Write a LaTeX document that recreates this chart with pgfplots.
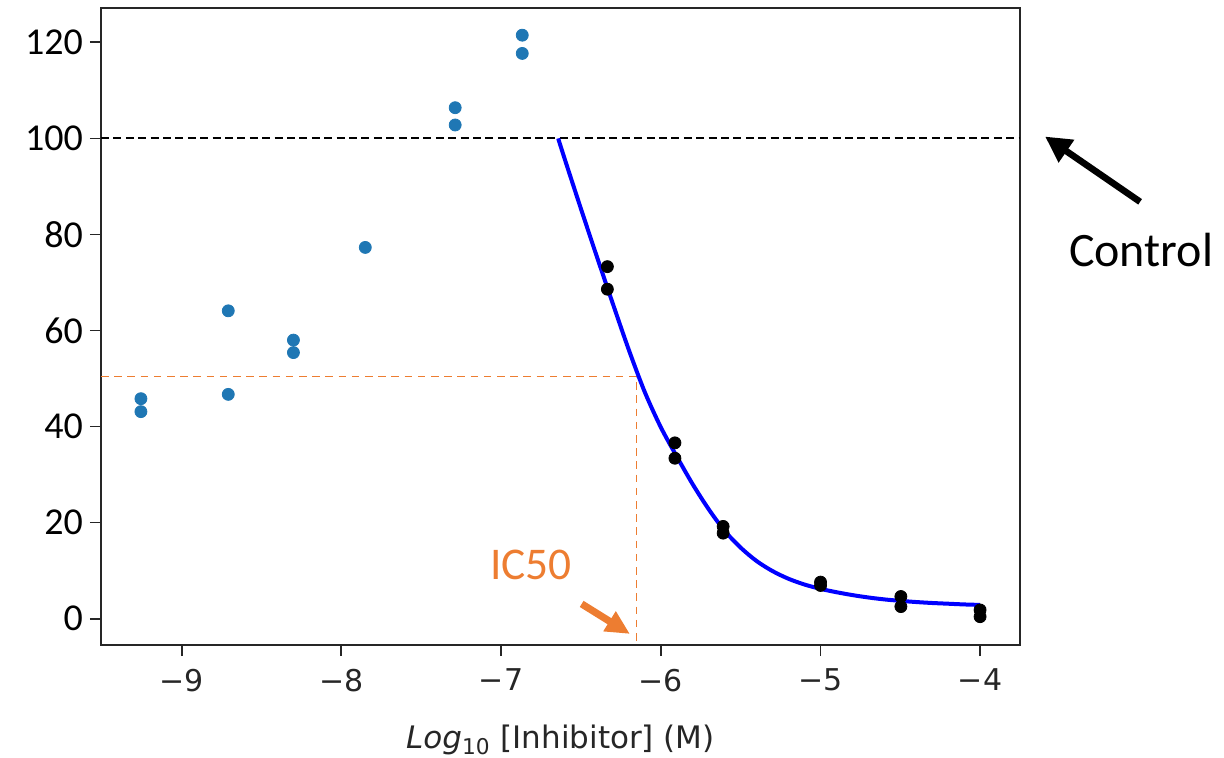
\documentclass[border=0pt]{standalone}
\usepackage{fontspec}
\setmainfont{Carlito}
\newfontfamily\dejavu{DejaVu Sans}
\usepackage{pgfplots}
\pgfplotsset{compat=1.18}
\usetikzlibrary{arrows.meta}
\definecolor{mplblue}{HTML}{1F77B4}
\definecolor{ic}{HTML}{ED7D31}
\definecolor{spine}{HTML}{262626}

\pgfplotstableread{
x y
-9.255 45.8
-9.255 43.1
-8.708 64.1
-8.708 46.7
-8.300 58.0
-8.300 55.4
-7.850 77.3
-7.287 106.4
-7.287 102.8
-6.867 121.5
-6.867 117.7
}\lowdata

\pgfplotstableread{
x y
-6.334 73.3
-6.334 68.6
-5.911 36.6
-5.911 33.4
-5.609 19.2
-5.609 17.8
-4.999 7.6
-4.999 6.9
-4.496 4.6
-4.496 2.5
-4.000 1.8
-4.000 0.4
}\highdata

\pgfplotstableread{
x y
-6.642 100.0
-6.6 95.6
-6.5 85.4
-6.4 75.4
-6.3 65.6
-6.2 56.0
-6.1 47.2
-6.0 39.9
-5.9 33.8
-5.8 28.0
-5.7 22.8
-5.6 18.3
-5.5 14.8
-5.4 12.0
-5.3 9.9
-5.2 8.3
-5.1 7.1
-5.0 6.2
-4.9 5.5
-4.8 4.9
-4.7 4.4
-4.6 4.0
-4.5 3.7
-4.4 3.45
-4.3 3.25
-4.2 3.1
-4.1 2.95
-4.0 2.85
}\fitdata

\begin{document}
\begin{tikzpicture}
\useasboundingbox (-50.5pt,-56pt) rectangle (561.5pt,322.5pt);
\begin{axis}[
  at={(0pt,0pt)}, anchor=south west,
  scale only axis, width=459.5pt, height=318.35pt,
  xmin=-9.505, xmax=-3.75, ymin=-5.5, ymax=127.1,
  clip=false,
  axis line style={spine, line width=1pt},
  tick pos=left,
  tick align=outside, major tick length=5.5pt,
  tick style={spine, line width=0.9pt},
  xtick={-9,-8,-7,-6,-5,-4},
  xticklabels={−9,−8,−7,−6,−5,−4},
  xticklabel style={font=\dejavu\fontsize{15}{17}\selectfont, text=black!85, yshift=-3pt},
  ytick={0,20,40,60,80,100,120},
  yticklabels={0,20,40,60,80,100,120},
  yticklabel style={font=\fontsize{19}{22}\selectfont},
  xlabel={{\itshape Log}\textsubscript{10} [Inhibitor] (M)},
  xlabel style={font=\dejavu\fontsize{15.5}{17}\selectfont, text=black!85,
    at={(axis description cs:0.5,0)}, anchor=base, yshift=-51.5pt},
]
\addplot[black, line width=1pt, dash pattern=on 4pt off 2.2pt] coordinates {(-9.505,100) (-3.75,100)};
\addplot[ic, line width=0.8pt, dash pattern=on 3.8pt off 2.8pt] coordinates {(-9.505,50.4) (-6.151,50.4) (-6.151,-5.5)};
\addplot[only marks, mark=*, mark size=3pt, mark options={fill=mplblue, draw=mplblue}] table {\lowdata};
\addplot[blue, line width=2pt, smooth, no marks] table {\fitdata};
\addplot[only marks, mark=*, mark size=3pt, mark options={fill=black, draw=black}] table {\highdata};
\draw[ic, line width=3.6pt, -{Triangle[length=12pt,width=11pt]}] (axis cs:-6.495,3.06) -- (axis cs:-6.193,-3.19);
\node[anchor=base, text=ic, font=\fontsize{22.7}{26}\selectfont, inner sep=0pt] at (axis cs:-6.813,8.06) {IC50};
\draw[black, line width=3.3pt, -{Triangle[length=13pt,width=13pt]}] (axis cs:-2.998,86.8) -- (axis cs:-3.593,100.4);
\node[anchor=base, font=\fontsize{24}{28}\selectfont, inner sep=0pt] at (axis cs:-2.992,73.3) {Control};
\end{axis}
\end{tikzpicture}
\end{document}
